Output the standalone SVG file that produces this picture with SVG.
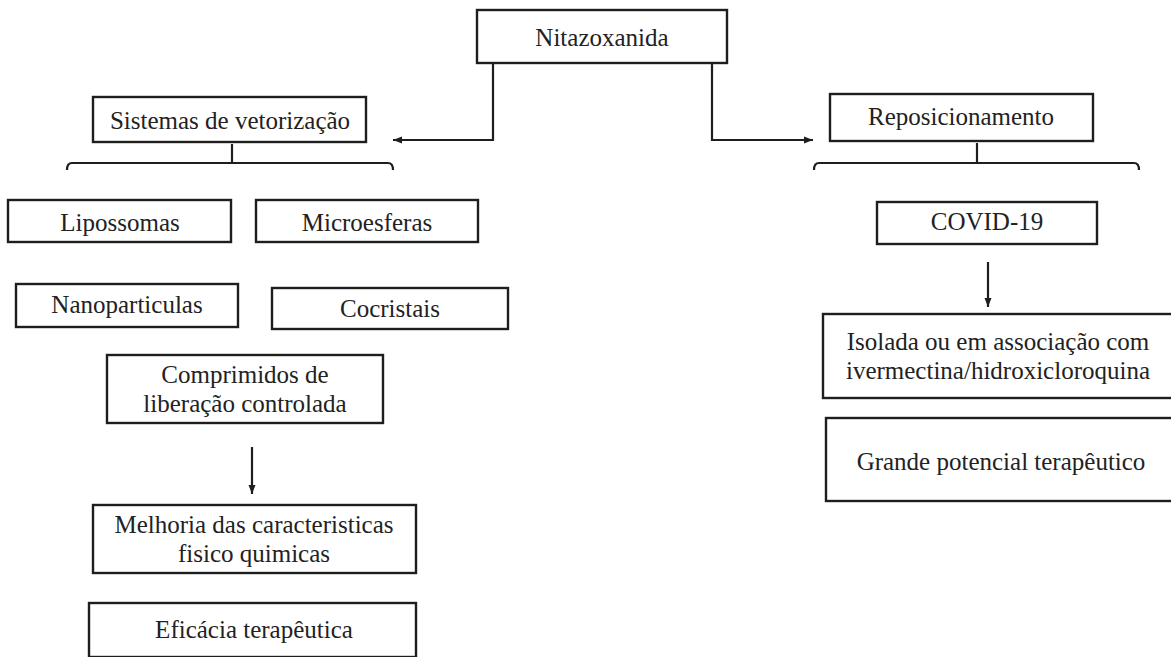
<svg xmlns="http://www.w3.org/2000/svg" width="1171" height="657" viewBox="0 0 1171 657">
<style>
.box{fill:#ffffff;stroke:#1e1e1e;stroke-width:2.4}
.con{fill:none;stroke:#1e1e1e;stroke-width:2.2}
</style>
<defs>
<marker id="arr" markerUnits="userSpaceOnUse" markerWidth="10" markerHeight="8" refX="9" refY="4" orient="auto">
<path d="M0,0.5 L9,4 L0,7.5 Z" fill="#1e1e1e"/>
</marker>
</defs>
<rect width="1171" height="657" fill="#ffffff"/>
<g id="connectors">
<path class="con" d="M493,63 V140 H393" marker-end="url(#arr)"/>
<path class="con" d="M712,63 V140 H813" marker-end="url(#arr)"/>
<path class="con" d="M232,144 V163"/>
<path class="con" d="M67,170 Q67,163 72,163 H388 Q393,163 393,170"/>
<path class="con" d="M977,143 V163"/>
<path class="con" d="M814,170 Q814,163 819,163 H1134 Q1139,163 1139,170"/>
<path class="con" d="M252,447 V494" marker-end="url(#arr)"/>
<path class="con" d="M988,262 V307" marker-end="url(#arr)"/>
</g>
<g font-family="Liberation Serif, Times New Roman, Times, serif" font-size="25" fill="#222222" text-anchor="middle">
<g id="nitazoxanida">
<rect class="box" x="477" y="10" width="250" height="53"/>
<text x="602" y="46">Nitazoxanida</text>
</g>
<g id="sistemas">
<rect class="box" x="93" y="97" width="273" height="45"/>
<text x="230" y="129">Sistemas de vetorização</text>
</g>
<g id="reposicionamento">
<rect class="box" x="830" y="94" width="263" height="47"/>
<text x="961" y="125">Reposicionamento</text>
</g>
<g id="lipossomas">
<rect class="box" x="8" y="200" width="223" height="42"/>
<text x="120" y="231">Lipossomas</text>
</g>
<g id="microesferas">
<rect class="box" x="256" y="200" width="222" height="42"/>
<text x="367" y="231">Microesferas</text>
</g>
<g id="nanoparticulas">
<rect class="box" x="16" y="284" width="222" height="43"/>
<text x="127" y="313">Nanoparticulas</text>
</g>
<g id="cocristais">
<rect class="box" x="272" y="288" width="236" height="41"/>
<text x="390" y="317">Cocristais</text>
</g>
<g id="comprimidos">
<rect class="box" x="107" y="355" width="276" height="68"/>
<text x="245" y="383">Comprimidos de</text>
<text x="245" y="412">liberação controlada</text>
</g>
<g id="melhoria">
<rect class="box" x="93" y="505" width="323" height="68"/>
<text x="254" y="533">Melhoria das caracteristicas</text>
<text x="254" y="562">fisico quimicas</text>
</g>
<g id="eficacia">
<rect class="box" x="89" y="603" width="327" height="54"/>
<text x="254" y="638">Eficácia terapêutica</text>
</g>
<g id="covid">
<rect class="box" x="877" y="202" width="220" height="42"/>
<text x="987" y="230">COVID-19</text>
</g>
<g id="isolada">
<rect class="box" x="823" y="314" width="352" height="84"/>
<text x="998" y="350">Isolada ou em associação com</text>
<text x="998" y="379">ivermectina/hidroxicloroquina</text>
</g>
<g id="grande">
<rect class="box" x="826" y="418" width="352" height="83"/>
<text x="1001" y="470">Grande potencial terapêutico</text>
</g>
</g>
</svg>
